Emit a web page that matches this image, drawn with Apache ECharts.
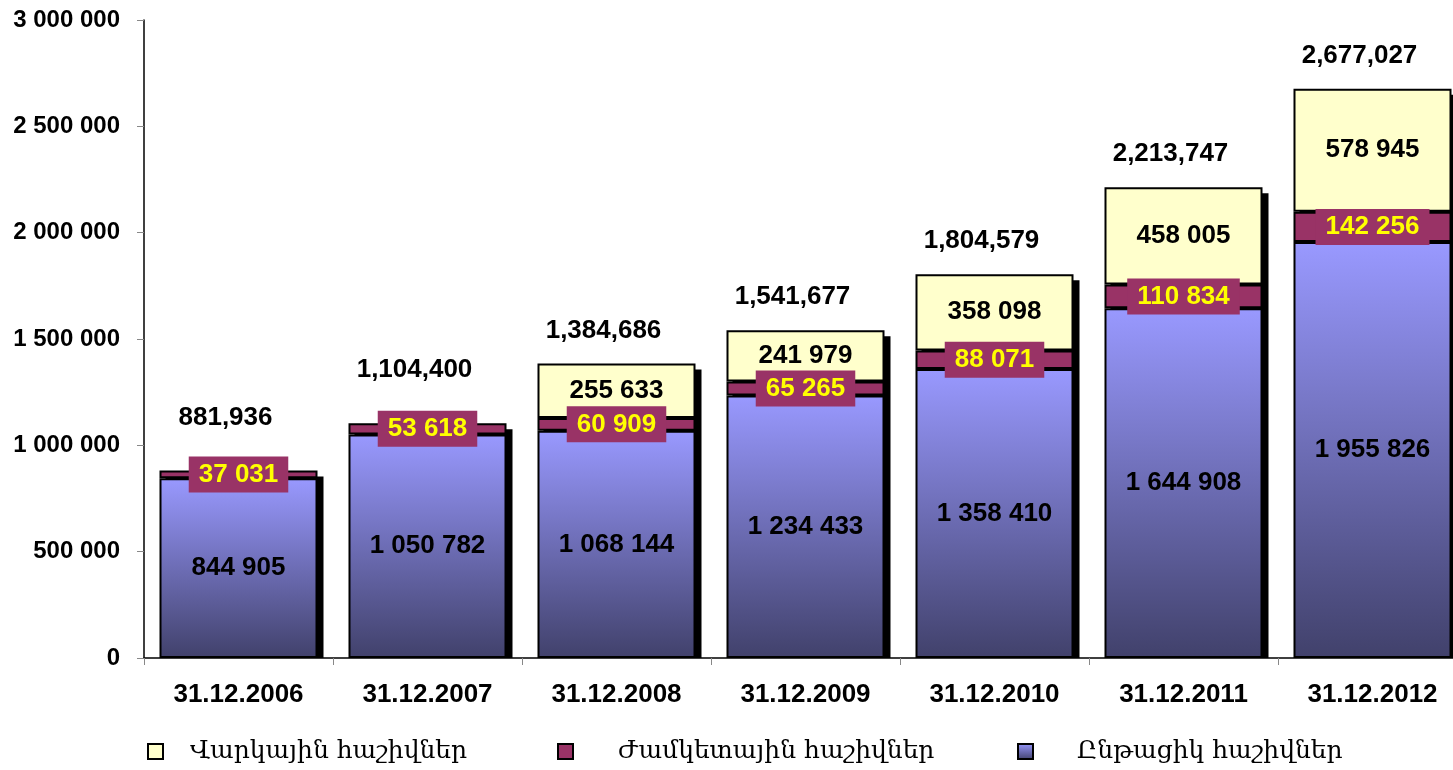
<!DOCTYPE html>
<html>
<head>
<meta charset="utf-8">
<script src="https://cdn.jsdelivr.net/npm/echarts@6/dist/echarts.min.js"></script>
<style>
  html, body { margin: 0; padding: 0; background: #fff; }
  #main { width: 1453px; height: 770px; }
</style>
</head>
<body>
<div id="main"></div>
<script>
// dates on the x axis
var dates = ['31.12.2006', '31.12.2007', '31.12.2008', '31.12.2009', '31.12.2010', '31.12.2011', '31.12.2012'];
// Ընթացիկ (bottom), Ժամկետային (middle), Վարկային (top)
var current = [844905, 1050782, 1068144, 1234433, 1358410, 1644908, 1955826];
var term = [37031, 53618, 60909, 65265, 88071, 110834, 142256];
var credit = [null, null, 255633, 241979, 358098, 458005, 578945];
var totals = [881936, 1104400, 1384686, 1541677, 1804579, 2213747, 2677027];

var names = ['Վարկային հաշիվներ', 'Ժամկետային հաշիվներ', 'Ընթացիկ հաշիվներ'];

function spaced(v) {
    return String(v).replace(/\B(?=(\d{3})+(?!\d))/g, ' ');
}
function commas(v) {
    return String(v).replace(/\B(?=(\d{3})+(?!\d))/g, ',');
}

var BAR = 0.836;
var FONT = 'Liberation Sans, Arial, sans-serif';

function legendAt(name, left, gap) {
    return {
        data: [name],
        bottom: 6,
        left: left,
        padding: 0,
        itemWidth: 15,
        itemHeight: 15,
        icon: 'rect',
        textStyle: { fontFamily: 'DejaVu Serif, serif', fontSize: 25, color: '#000', padding: [0, 0, 0, gap] }
    };
}

var myChart = echarts.init(document.getElementById('main'));

var option = {
    animation: false,
    grid: { left: 144, width: 1323, top: 20, bottom: 112, outerBoundsMode: 'none' },
    legend: [legendAt(names[0], 147, 22), legendAt(names[1], 557, 40), legendAt(names[2], 1017, 39)],
    xAxis: {
        type: 'category',
        data: dates,
        axisLine: { lineStyle: { color: '#000', width: 1.5 } },
        axisTick: { show: true, length: 7, lineStyle: { color: '#888' } },
        axisLabel: { fontFamily: FONT, fontWeight: 'bold', fontSize: 26, color: '#000', margin: 24 }
    },
    yAxis: {
        type: 'value',
        min: 0,
        max: 3000000,
        interval: 500000,
        splitLine: { show: false },
        axisLine: { show: true, lineStyle: { color: '#000', width: 1.5 } },
        axisTick: { show: true, length: 7, lineStyle: { color: '#888' } },
        axisLabel: {
            fontFamily: FONT, fontWeight: 'bold', fontSize: 24, color: '#000', margin: 24,
            formatter: function (v) { return spaced(v); }
        }
    },
    series: [
        {
            // drop shadow behind each column plus the total on top
            name: 'total',
            type: 'custom',
            z: 1,
            silent: true,
            data: totals.map(function (t, i) { return [i, t]; }),
            renderItem: function (params, api) {
                var i = params.dataIndex;
                var top = api.coord([api.value(0), api.value(1)]);
                var base = api.coord([api.value(0), 0]);
                var w = api.size([1, 0])[0] * BAR;
                // lift the total clear of the term label when there is no credit block
                var lift = credit[i] == null ? 40 : 20;
                return {
                    type: 'group',
                    children: [
                        {
                            type: 'rect',
                            shape: { x: top[0] - w / 2 + 6, y: top[1] + 6, width: w, height: base[1] - top[1] - 6 },
                            style: { fill: '#000' }
                        },
                        {
                            type: 'text',
                            x: top[0] - 13,
                            y: top[1] - lift,
                            style: {
                                text: commas(api.value(1)),
                                align: 'center',
                                verticalAlign: 'bottom',
                                fill: '#000',
                                font: 'bold 26px ' + FONT
                            }
                        }
                    ]
                };
            }
        },
        {
            name: names[2],
            type: 'bar',
            stack: 'all',
            barWidth: (BAR * 100) + '%',
            z: 3,
            data: current,
            itemStyle: {
                borderColor: '#000',
                borderWidth: 2,
                color: new echarts.graphic.LinearGradient(0, 0, 0, 1, [
                    { offset: 0, color: '#9999FF' },
                    { offset: 1, color: '#41416B' }
                ])
            },
            label: {
                show: true, position: 'inside', color: '#000',
                fontFamily: FONT, fontWeight: 'bold', fontSize: 26,
                formatter: function (p) { return spaced(p.value); }
            }
        },
        {
            name: names[1],
            type: 'bar',
            stack: 'all',
            z: 3,
            data: term,
            itemStyle: { borderColor: '#000', borderWidth: 2, color: '#993366' },
            label: {
                show: true, position: 'inside', color: '#FFFF00',
                backgroundColor: '#993366', padding: [6, 10, 4, 10],
                fontFamily: FONT, fontWeight: 'bold', fontSize: 26,
                formatter: function (p) { return spaced(p.value); }
            }
        },
        {
            name: names[0],
            type: 'bar',
            stack: 'all',
            z: 3,
            data: credit,
            itemStyle: { borderColor: '#000', borderWidth: 2, color: '#FFFFCC' },
            label: {
                show: true, position: 'inside', color: '#000',
                fontFamily: FONT, fontWeight: 'bold', fontSize: 26,
                formatter: function (p) { return spaced(p.value); }
            }
        }
    ]
};

myChart.setOption(option);
</script>
</body>
</html>
